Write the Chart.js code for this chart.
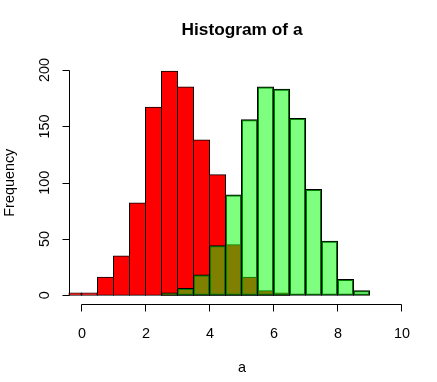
<!DOCTYPE html>
<html>
<head>
<meta charset="utf-8">
<script src="https://cdn.jsdelivr.net/npm/chart.js@4/dist/chart.umd.min.js"></script>
<style>
html,body{margin:0;padding:0;background:#fff;}
canvas{display:block;}
</style>
</head>
<body>
<canvas id="c" width="437" height="382"></canvas>
<script>
// Histogram bin midpoints (bin width 0.5) and counts
const redMids   = [-0.25, 0.25, 0.75, 1.25, 1.75, 2.25, 2.75, 3.25, 3.75, 4.25, 4.75, 5.25, 5.75, 6.25];
const redCounts = [2, 2, 16, 35, 82, 167, 199, 185, 138, 107, 45, 16, 4, 2];
const greenMids   = [2.75, 3.25, 3.75, 4.25, 4.75, 5.25, 5.75, 6.25, 6.75, 7.25, 7.75, 8.25, 8.75];
const greenCounts = [2, 6, 18, 44, 89, 156, 185, 183, 157, 94, 48, 14, 4];
const xTicks = [0, 2, 4, 6, 8, 10];
const yTicks = [0, 50, 100, 150, 200];
const titleText = "Histogram of a";
const xTitle = "a";
const yTitle = "Frequency";

const FONT = '"Liberation Sans", Arial, Helvetica, sans-serif';

const rAxes = {
  id: 'rAxes',
  afterDraw(chart) {
    const ctx = chart.ctx;
    const xs = chart.scales.x, ys = chart.scales.y;
    const area = chart.chartArea;
    ctx.save();
    ctx.strokeStyle = '#000';
    ctx.fillStyle = '#000';
    ctx.lineWidth = 1;
    // x axis
    const ay = Math.round(area.bottom) + 0.5;
    const xa = xs.getPixelForValue(xTicks[0]);
    const xb = xs.getPixelForValue(xTicks[xTicks.length - 1]);
    ctx.beginPath();
    ctx.moveTo(Math.floor(xa) + 0.5, ay);
    ctx.lineTo(Math.floor(xb) + 0.5, ay);
    xTicks.forEach(v => {
      const px = Math.floor(xs.getPixelForValue(v)) + 0.5;
      ctx.moveTo(px, ay);
      ctx.lineTo(px, ay + 7);
    });
    ctx.stroke();
    ctx.font = '14.4px ' + FONT;
    ctx.textAlign = 'center';
    ctx.textBaseline = 'alphabetic';
    xTicks.forEach(v => {
      ctx.fillText(String(v), xs.getPixelForValue(v) + 0.5, 337.5);
    });
    // y axis
    const ax = Math.round(area.left) + 0.5;
    const ya = ys.getPixelForValue(yTicks[0]);
    const yb = ys.getPixelForValue(yTicks[yTicks.length - 1]);
    ctx.beginPath();
    ctx.moveTo(ax, Math.round(ya) + 0.5);
    ctx.lineTo(ax, Math.round(yb) + 0.5);
    yTicks.forEach(v => {
      const py = Math.round(ys.getPixelForValue(v)) + 0.5;
      ctx.moveTo(ax, py);
      ctx.lineTo(ax - 7, py);
    });
    ctx.stroke();
    yTicks.forEach(v => {
      ctx.save();
      ctx.translate(48.5, ys.getPixelForValue(v));
      ctx.rotate(-Math.PI / 2);
      ctx.fillText(String(v), 0, 0);
      ctx.restore();
    });
    // axis titles
    ctx.fillText(xTitle, (area.left + area.right) / 2 + 0.5, 371.5);
    ctx.save();
    ctx.translate(14, (area.top + area.bottom) / 2);
    ctx.rotate(-Math.PI / 2);
    ctx.fillText(yTitle, 0, 0);
    ctx.restore();
    // main title
    ctx.font = 'bold 17.3px ' + FONT;
    ctx.fillText(titleText, (area.left + area.right) / 2 + 0.5, 35);
    ctx.restore();
  }
};

new Chart(document.getElementById('c'), {
  type: 'bar',
  data: {
    datasets: [
      {
        label: 'green',
        data: greenMids.map((m, i) => ({x: m, y: greenCounts[i]})),
        backgroundColor: 'rgba(0,255,0,0.5)',
        borderColor: '#000',
        borderWidth: 1,
        borderSkipped: false,
        inflateAmount: 0.5,
        grouped: false,
        barPercentage: 1,
        categoryPercentage: 1,
        clip: 0,
        order: 0
      },
      {
        label: 'red',
        data: redMids.map((m, i) => ({x: m, y: redCounts[i]})),
        backgroundColor: '#FF0000',
        borderColor: '#000',
        borderWidth: 1,
        borderSkipped: false,
        inflateAmount: 0.5,
        grouped: false,
        barPercentage: 1,
        categoryPercentage: 1,
        clip: 0,
        order: 1
      }
    ]
  },
  options: {
    responsive: false,
    animation: false,
    events: [],
    layout: { padding: { left: 68.7, right: 22.7, top: 61.1, bottom: 77.7 } },
    plugins: { legend: { display: false }, tooltip: { enabled: false }, title: { display: false } },
    scales: {
      x: { type: 'linear', display: false, offset: false, min: -0.4, max: 10.4 },
      y: { type: 'linear', display: false, min: -8, max: 208 }
    }
  },
  plugins: [rAxes]
});
</script>
</body>
</html>
